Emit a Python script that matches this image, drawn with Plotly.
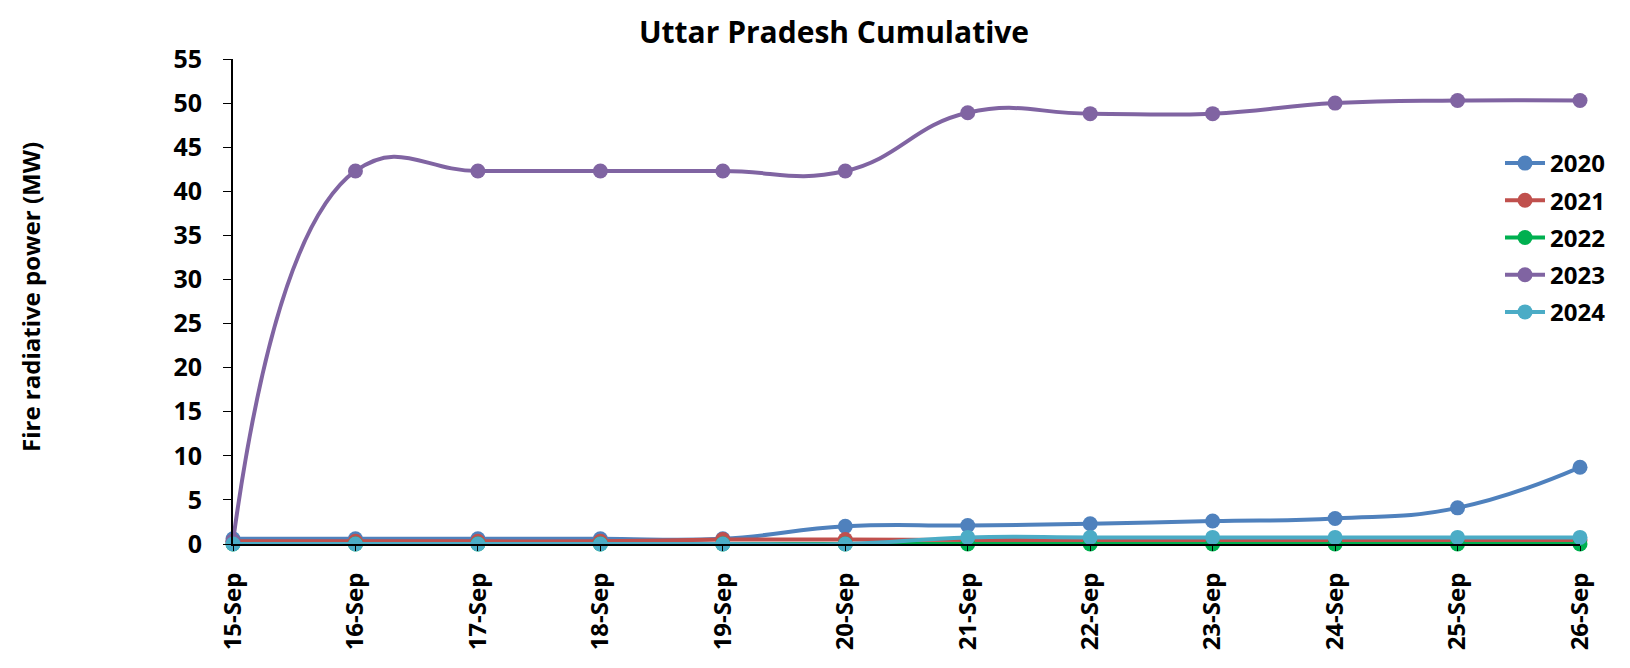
import plotly.graph_objects as go

categories = ["15-Sep", "16-Sep", "17-Sep", "18-Sep", "19-Sep", "20-Sep",
              "21-Sep", "22-Sep", "23-Sep", "24-Sep", "25-Sep", "26-Sep"]
y2020 = [0.6, 0.6, 0.6, 0.6, 0.6, 2.0, 2.1, 2.3, 2.6, 2.9, 4.1, 8.7]
y2021 = [0.3, 0.3, 0.3, 0.3, 0.5, 0.5, 0.45, 0.45, 0.45, 0.45, 0.45, 0.45]
y2022 = [0.0, 0.0, 0.0, 0.0, 0.0, 0.0, 0.0, 0.0, 0.0, 0.0, 0.0, 0.0]
y2023 = [0.3, 42.3, 42.3, 42.3, 42.3, 42.3, 48.9, 48.8, 48.8, 50.0, 50.3, 50.3]
y2024 = [0.0, 0.0, 0.0, 0.0, 0.0, 0.0, 0.75, 0.75, 0.75, 0.75, 0.75, 0.75]
tick_vals = list(range(0, 56, 5))

series = [("2020", y2020, "#4F81BD"), ("2021", y2021, "#C0504D"),
          ("2022", y2022, "#00B050"), ("2023", y2023, "#8064A2"),
          ("2024", y2024, "#4BACC6")]

font_family = "Open Sans, Lato, DejaVu Sans, sans-serif"
fig = go.Figure()
xs = list(range(len(categories)))
for name, ys, color in series:
    fig.add_trace(go.Scatter(
        x=xs, y=ys, name="<b>%s</b>" % name, mode="lines+markers",
        legendgroup=name,
        line=dict(color=color, width=4, shape="spline", smoothing=1.3),
        marker=dict(color=color, size=15),
        cliponaxis=False,
    ))

# page body has an 8px margin; coordinates below are in figure pixels
OFF = 8
L, R, T, B = 233 - OFF, 1580 - OFF, 59 - OFF, 544 - OFF
W, H = 1630 - OFF, 668 - OFF
PW, PH = R - L, B - T

def px_x(x):
    return (x - OFF - L) / PW

def px_y(y):
    return 1 - (y - OFF - T) / PH

fig.update_layout(
    width=W, height=H,
    margin=dict(l=L, r=W - R, t=T, b=H - B, autoexpand=False),
    paper_bgcolor="white", plot_bgcolor="white",
    title=dict(text="<b>Uttar Pradesh Cumulative</b>", x=(834 - OFF) / W, xanchor="center",
               y=1 - (32 - OFF) / H, yanchor="middle",
               font=dict(family=font_family, size=30, color="black")),
    font=dict(family=font_family, color="black"),
    legend=dict(x=px_x(1500), y=px_y(141), xanchor="left", yanchor="top",
                bgcolor="rgba(0,0,0,0)", font=dict(size=24, color="black", family=font_family),
                traceorder="grouped", tracegroupgap=3, itemwidth=40),
    xaxis=dict(range=[0, 11], tickmode="array", tickvals=xs,
               ticktext=["<b>%s</b>" % c for c in categories], tickangle=-90,
               tickfont=dict(size=24, color="black"), showgrid=False, zeroline=False,
               showline=True, linecolor="black", linewidth=2, ticks="outside", ticklen=5,
               tickcolor="black", ticklabelstandoff=12),
    yaxis=dict(range=[0, 55], tickmode="array", tickvals=tick_vals,
               ticktext=["<b>%d</b>" % v for v in tick_vals],
               tickfont=dict(size=25, color="black"), showgrid=False, zeroline=False,
               showline=True, linecolor="black", linewidth=2, ticks="outside", ticklen=8,
               tickcolor="black", ticklabelstandoff=16),
    annotations=[dict(text="<b>Fire radiative power (MW)</b>", textangle=-90,
                      xref="paper", yref="paper", x=px_x(30), y=px_y(297),
                      xanchor="center", yanchor="middle", showarrow=False,
                      font=dict(size=24, color="black", family=font_family))],
)
fig.write_html("out.html")
